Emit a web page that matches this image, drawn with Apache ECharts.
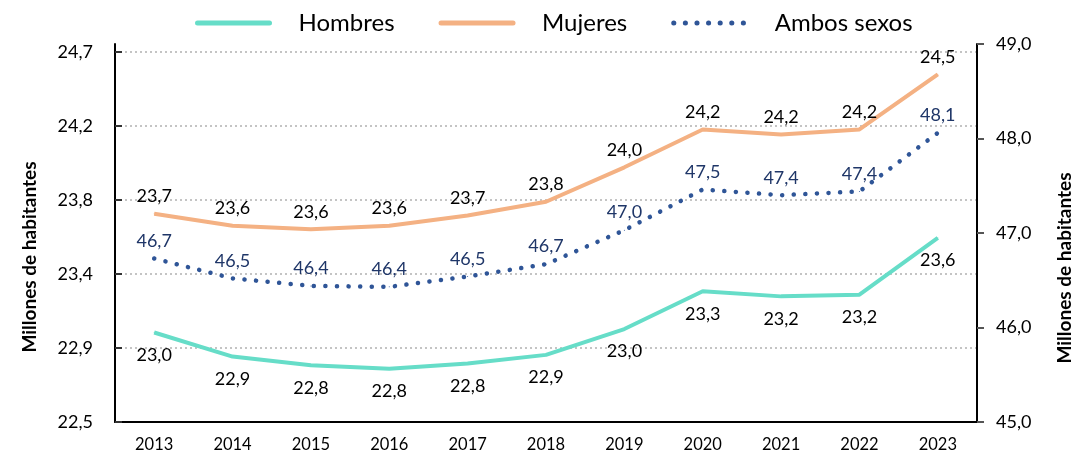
<!DOCTYPE html>
<html>
<head>
<meta charset="utf-8">
<script src="https://cdn.jsdelivr.net/npm/echarts@6/dist/echarts.min.js"></script>
<style>
  html, body {margin: 0; padding: 0; background: #fff;}
  #chart {width: 1078px; height: 461px;}
</style>
</head>
<body>
<div id="chart"></div>
<script>
const years = ['2013', '2014', '2015', '2016', '2017', '2018', '2019', '2020', '2021', '2022', '2023'];
const hombres = [23.02, 22.88, 22.83, 22.81, 22.84, 22.89, 23.04, 23.26, 23.23, 23.24, 23.57];
const mujeres = [23.71, 23.64, 23.62, 23.64, 23.70, 23.78, 23.98, 24.20, 24.17, 24.20, 24.52];
const ambos = [46.73, 46.52, 46.44, 46.43, 46.54, 46.67, 47.03, 47.46, 47.40, 47.44, 48.06];
const leftTicks = ['22,5', '22,9', '23,4', '23,8', '24,2', '24,7'];

const FONT = 'Lato, "Open Sans", sans-serif';
const fmt = v => v.toFixed(1).replace('.', ',');

const chart = echarts.init(document.getElementById('chart'));
const option = {
    animation: false,
    textStyle: {fontFamily: FONT},
    legend: {
        top: 6, left: 190,
        itemWidth: 72, itemHeight: 14, itemGap: 44,
        itemStyle: {opacity: 0},
        lineStyle: {width: 5, cap: 'round'},
        textStyle: {fontSize: 24, color: '#000', fontFamily: FONT, padding: [0, 0, 0, 24]},
        data: ['Hombres', 'Mujeres', 'Ambos sexos']
    },
    grid: [
        {left: 115, right: 101, top: 52, bottom: 39},
        {left: 115, right: 101, top: 44, bottom: 39}
    ],
    xAxis: [
        {
            type: 'category', gridIndex: 0, data: years,
            axisLine: {lineStyle: {color: '#000', width: 2}},
            axisTick: {show: false},
            axisLabel: {color: '#000', fontSize: 16.5, margin: 14, fontFamily: FONT}
        },
        {type: 'category', gridIndex: 1, data: years, show: false}
    ],
    yAxis: [
        {
            type: 'value', gridIndex: 0, min: 22.5, max: 24.65, interval: 0.43,
            axisLine: {show: false},
            axisTick: {show: true, inside: true, length: 7, lineStyle: {color: '#333', width: 2}},
            axisLabel: {color: '#000', fontSize: 18, margin: 22, fontFamily: FONT,
                formatter: v => leftTicks[Math.round((v - 22.5) / 0.43)]},
            splitLine: {lineStyle: {color: '#c4c4c4', type: [2, 3], width: 2}}
        },
        {
            type: 'value', gridIndex: 1, position: 'right', min: 45, max: 49, interval: 1,
            axisLine: {show: true, lineStyle: {color: '#000', width: 2}},
            axisTick: {show: true, length: 7, lineStyle: {color: '#555', width: 2}},
            axisLabel: {color: '#000', fontSize: 18, margin: 19, fontFamily: FONT, formatter: fmt},
            splitLine: {show: false}
        },
        {
            type: 'value', gridIndex: 1, position: 'left', min: 45, max: 49,
            axisLine: {show: true, lineStyle: {color: '#000', width: 2}},
            axisTick: {show: false}, axisLabel: {show: false}, splitLine: {show: false}
        }
    ],
    graphic: [
        {type: 'text', x: 30, y: 257, rotation: Math.PI / 2,
            style: {text: 'Millones de habitantes', font: 'bold 19px ' + FONT, fill: '#000', align: 'center', verticalAlign: 'middle'}},
        {type: 'text', x: 1065, y: 268, rotation: Math.PI / 2,
            style: {text: 'Millones de habitantes', font: 'bold 19px ' + FONT, fill: '#000', align: 'center', verticalAlign: 'middle'}}
    ],
    series: [
        {
            name: 'Hombres', type: 'line', xAxisIndex: 0, yAxisIndex: 0,
            data: hombres, symbol: 'circle', symbolSize: 1, showSymbol: true,
            itemStyle: {color: '#66DDC8'},
            lineStyle: {color: '#66DDC8', width: 4},
            label: {show: true, position: 'bottom', distance: 13, color: '#000', fontSize: 18,
                fontFamily: FONT, formatter: p => fmt(p.value)}
        },
        {
            name: 'Mujeres', type: 'line', xAxisIndex: 0, yAxisIndex: 0,
            data: mujeres, symbol: 'circle', symbolSize: 1, showSymbol: true,
            itemStyle: {color: '#F4B183'},
            lineStyle: {color: '#F4B183', width: 4},
            label: {show: true, position: 'top', distance: 8, color: '#000', fontSize: 18,
                fontFamily: FONT, formatter: p => fmt(p.value)}
        },
        {
            name: 'Ambos sexos', type: 'line', xAxisIndex: 1, yAxisIndex: 1,
            data: ambos, symbol: 'circle', symbolSize: 1, showSymbol: true,
            itemStyle: {color: '#2F5597'},
            lineStyle: {color: '#2F5597', width: 4.5, type: [0.1, 11.5], cap: 'round'},
            label: {show: true, position: 'top', distance: 8, color: '#1F3668', fontSize: 18,
                fontFamily: FONT, formatter: p => fmt(p.value)}
        }
    ]
};
chart.setOption(option);
</script>
</body>
</html>
